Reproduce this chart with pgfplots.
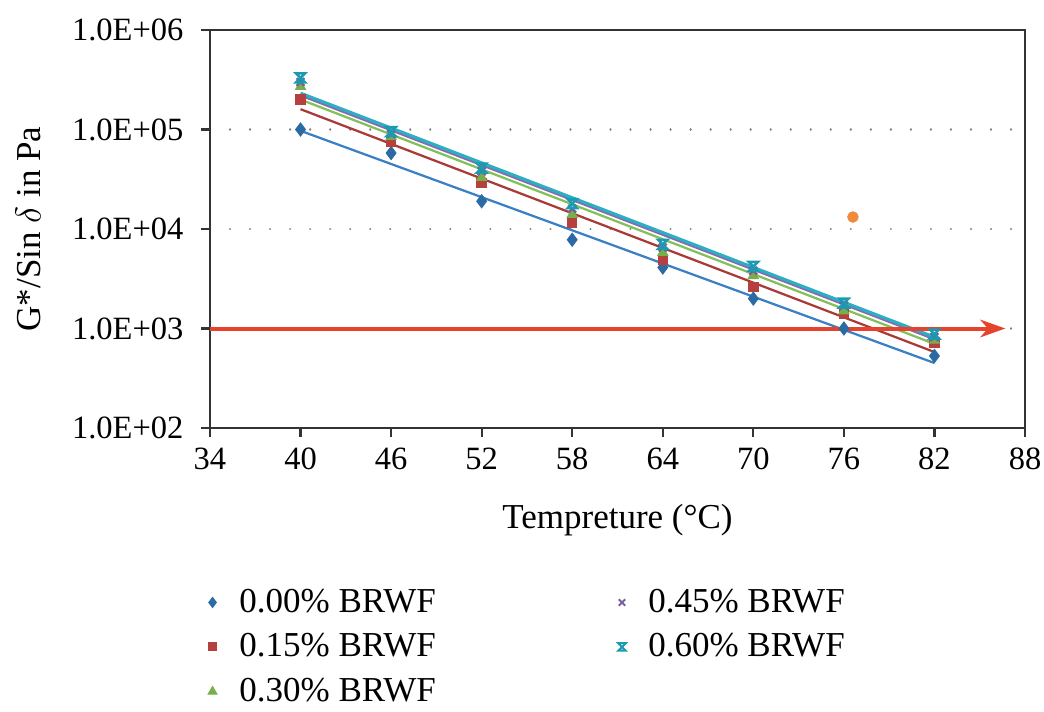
\documentclass[border=0pt]{standalone}
\usepackage{fontspec}
\setmainfont{Liberation Serif}
\usepackage{pgfplots}
\pgfplotsset{compat=1.18}
\usetikzlibrary{arrows.meta}
\definecolor{cblue}{HTML}{2B6AA3}
\definecolor{lblue}{HTML}{3A80C4}
\definecolor{cred}{HTML}{B5403D}
\definecolor{lred}{HTML}{A93A37}
\definecolor{cgreen}{HTML}{77B04A}
\definecolor{lgreen}{HTML}{82C05A}
\definecolor{cpurple}{HTML}{7A5C9F}
\definecolor{lpurple}{HTML}{8A68B0}
\definecolor{cteal}{HTML}{1B9BAF}
\definecolor{lteal}{HTML}{2AB0C2}
\definecolor{corange}{HTML}{F08A3C}
\definecolor{carrow}{HTML}{E5432D}
\pgfdeclareplotmark{hourglass}{%
  \pgfpathmoveto{\pgfqpoint{-\pgfplotmarksize}{\pgfplotmarksize}}%
  \pgfpathlineto{\pgfqpoint{\pgfplotmarksize}{\pgfplotmarksize}}%
  \pgfpathlineto{\pgfqpoint{-\pgfplotmarksize}{-\pgfplotmarksize}}%
  \pgfpathlineto{\pgfqpoint{\pgfplotmarksize}{-\pgfplotmarksize}}%
  \pgfpathclose
  \pgfusepathqstroke}
\begin{document}
\begin{tikzpicture}
\path[use as bounding box] (0,0) rectangle (417.6pt,284.4pt);
\begin{axis}[
  scale only axis,
  width=326pt, height=159.2pt,
  at={(84pt,113.2pt)}, anchor=south west,
  xmin=34, xmax=88, ymode=log, ymin=100, ymax=1000000,
  xtick={34,40,...,88},
  ytick={100,1000,10000,100000,1000000},
  yticklabels={1.0E+02,1.0E+03,1.0E+04,1.0E+05,1.0E+06},
  tick align=outside, tick pos=left,
  major tick length=3.6pt,
  minor tick num=0,
  log basis y=10,
  axis line style={black!80, line width=0.9pt},
  every tick/.style={black!80, line width=0.9pt},
  ymajorgrids,
  major grid style={gray, line width=0.9pt, dash pattern=on 0.01pt off 8pt, line cap=round},
  tick label style={font=\fontsize{13}{15}\selectfont},
  /pgf/number format/assume math mode=true,
  yticklabel style={xshift=-3.5pt},
  xticklabel style={yshift=-1pt},
  xlabel={Tempreture (°C)},
  ylabel={G*/Sin $\delta$ in Pa},
  label style={font=\fontsize{14}{16}\selectfont},
  xlabel style={at={(axis description cs:0.5,-0.231)}, anchor=center},
  ylabel style={at={(axis description cs:-0.223,0.5)}, anchor=center, rotate=0},
  legend columns=2,
  legend style={draw=none, at={(axis description cs:-0.012,-0.378)}, anchor=north west,
    font=\fontsize{14}{15}\selectfont, row sep=3pt,
    /tikz/every odd column/.append style={column sep=7pt},
    /tikz/every even column/.append style={column sep=71pt}},
  legend cell align=left,
  clip=false,
]
% trendlines
\addplot[lblue, line width=0.9pt, forget plot] coordinates {(40,97000) (82,450)};
\addplot[lred, line width=0.9pt, forget plot] coordinates {(40,160000) (82,580)};
\addplot[lgreen, line width=0.9pt, forget plot] coordinates {(40,200000) (82,700)};
\addplot[lpurple, line width=0.9pt, forget plot] coordinates {(40,220000) (82,780)};
\addplot[lteal, line width=1.2pt, forget plot] coordinates {(40,232000) (82,820)};
% data
\addplot[only marks, mark=diamond*, mark size=2.6pt, color=cblue, forget plot] coordinates {
 (40,100000) (46,58000) (52,19000) (58,7800) (64,4100) (70,2000) (76,1000) (82,530)};
\addplot[only marks, mark=square*, mark size=1.9pt, color=cred, forget plot] coordinates {
 (40,200000) (46,76000) (52,29000) (58,11500) (64,4900) (70,2600) (76,1400) (82,720)};
\addplot[only marks, mark=triangle*, mark size=2.3pt, color=cgreen, forget plot] coordinates {
 (40,270000) (46,85000) (52,33000) (58,14000) (64,5800) (70,3400) (76,1500) (82,760)};
\addplot[only marks, mark=x, mark size=2.2pt, color=cpurple, line width=0.9pt, forget plot] coordinates {
 (40,300000) (46,90000) (52,38000) (58,16000) (64,6500) (70,3800) (76,1700) (82,820)};
\addplot[only marks, mark=hourglass, mark size=1.8pt, color=cteal, line width=1.0pt, forget plot] coordinates {
 (40,330000) (46,95000) (52,41000) (58,18000) (64,7000) (70,4200) (76,1800) (82,880)};
% outlier and arrow
\addplot[only marks, mark=*, mark size=2.1pt, color=corange, forget plot] coordinates {(76.6,13200)};
\addplot[carrow, line width=1.6pt, -{Stealth[length=10pt,width=7pt,inset=3pt]}, forget plot] coordinates {(34,1000) (86.7,1000)};
% legend
\addlegendimage{only marks, mark=diamond*, mark size=2.0pt, color=cblue}
\addlegendentry{0.00\% BRWF}
\addlegendimage{only marks, mark=x, mark size=1.8pt, color=cpurple, line width=0.8pt}
\addlegendentry{0.45\% BRWF}
\addlegendimage{only marks, mark=square*, mark size=1.6pt, color=cred}
\addlegendentry{0.15\% BRWF}
\addlegendimage{only marks, mark=hourglass, mark size=1.5pt, color=cteal, line width=0.8pt}
\addlegendentry{0.60\% BRWF}
\addlegendimage{only marks, mark=triangle*, mark size=2.0pt, color=cgreen}
\addlegendentry{0.30\% BRWF}
\end{axis}
\end{tikzpicture}
\end{document}
